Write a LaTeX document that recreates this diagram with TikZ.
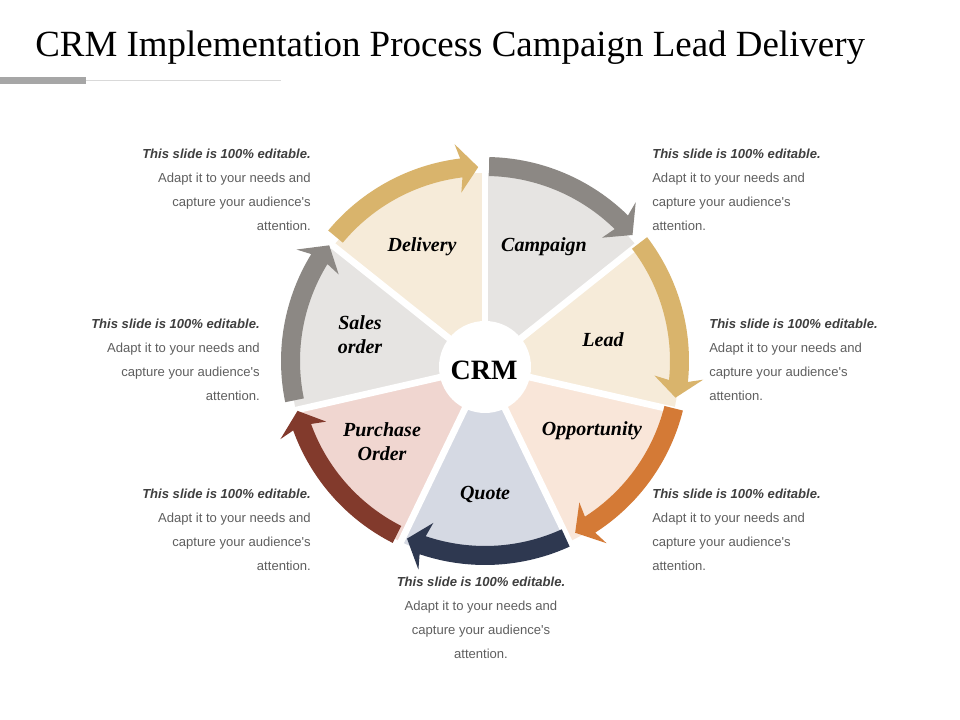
\documentclass[tikz,border=0pt]{standalone}
\usepackage{fontspec}
\setmainfont{Liberation Serif}
\newfontfamily\arialf{Liberation Sans}
\definecolor{secgrey}{HTML}{E6E4E2}
\definecolor{seccream}{HTML}{F6EBD9}
\definecolor{secpeach}{HTML}{F9E6D9}
\definecolor{secblue}{HTML}{D5D9E3}
\definecolor{secpink}{HTML}{F0D6D0}
\definecolor{argrey}{HTML}{8C8884}
\definecolor{argold}{HTML}{D9B46C}
\definecolor{arorange}{HTML}{D47A36}
\definecolor{arnavy}{HTML}{2E3850}
\definecolor{armaroon}{HTML}{823A2C}
\definecolor{txdark}{HTML}{3F3F3F}
\definecolor{txgrey}{HTML}{5F5F5F}
\definecolor{barthick}{HTML}{A6A6A6}
\definecolor{barthin}{HTML}{D9D9D9}
% #1 start angle, #2 tip angle, #3 colour (clockwise arrow)
\newcommand{\myarcarrow}[3]{%
  \pgfmathsetmacro\myab{#2+5}%
  \pgfmathsetmacro\myaw{#2+6}%
  \fill[#3] (#1:204) arc[start angle=#1, end angle=\myab, radius=204]
    -- (\myaw:219) -- (#2:194) -- (\myaw:170) -- (\myab:185)
    arc[start angle=\myab, end angle=#1, radius=185] -- cycle;%
}
\newcommand{\myblurb}{{\color{txdark}\bfseries\itshape This slide is 100\% editable.}\\Adapt it to your needs and\\capture your audience's\\attention.}
\tikzset{
  blurb/.style={inner sep=0pt, text=txgrey, font={\arialf\fontsize{9.8}{18}\selectfont}},
  seglabel/.style={inner sep=0pt, align=center, font={\bfseries\itshape\fontsize{15}{18}\selectfont}},
}
\begin{document}
\begin{tikzpicture}[x=0.75pt,y=0.75pt]
\useasboundingbox (0,0) rectangle (960,720);
\fill[white] (0,0) rectangle (960,720);
% title
\node[anchor=base west, inner sep=0pt, font={\fontsize{27.7}{30}\selectfont}] (title) at (35,663) {CRM Implementation Process Campaign Lead Delivery};
\fill[barthick] (0,636) rectangle (86,643);
\draw[barthin, line width=1.2pt] (86,639.5) -- (281,639.5);
% sectors
\begin{scope}[shift={(485,353)}]
  \foreach \a/\c in {90/secgrey, 38.571/seccream, -12.857/secpeach, -64.286/secblue, -115.714/secpink, -167.143/secgrey, -218.571/seccream}{
    \fill[\c] (0,0) -- (\a:194) arc[start angle=\a, end angle=\a-51.429, radius=194] -- cycle;
  }
  \foreach \a in {90, 38.571, -12.857, -64.286, -115.714, -167.143, -218.571}{
    \draw[white, line width=5pt] (0,0) -- (\a:200);
  }
  \fill[white] (0,0) circle[radius=46];
\end{scope}
% arrows
\begin{scope}[shift={(485,359)}]
  \myarcarrow{88.8}{40.5}{argrey}
  \myarcarrow{37.37}{-10.9}{argold}
  \myarcarrow{-14.06}{-62.3}{arorange}
  \myarcarrow{-65.49}{-113.7}{arnavy}
  \myarcarrow{-116.91}{-165.1}{armaroon}
  \myarcarrow{-168.34}{-216.6}{argrey}
  \myarcarrow{-219.77}{-268.0}{argold}
\end{scope}
% labels
\node[font={\bfseries\fontsize{21}{24}\selectfont}, inner sep=0pt] (crm) at (484,350) {CRM};
\node[seglabel] (campaign) at (544,473) {Campaign};
\node[seglabel] (delivery) at (422,473) {Delivery};
\node[seglabel] (lead) at (603,380) {Lead};
\node[seglabel] (sales) at (360,385) {Sales\\order};
\node[seglabel] (opportunity) at (592,289) {Opportunity};
\node[seglabel] (purchase) at (382,278) {Purchase\\Order};
\node[seglabel] (quote) at (485,225) {Quote};
% text blocks
\node[blurb, anchor=north east, align=right] (t1) at (311,571) {\myblurb};
\node[blurb, anchor=north west, align=left] (t2) at (652,571) {\myblurb};
\node[blurb, anchor=north east, align=right] (t3) at (260,401) {\myblurb};
\node[blurb, anchor=north west, align=left] (t4) at (709,401) {\myblurb};
\node[blurb, anchor=north east, align=right] (t5) at (311,231) {\myblurb};
\node[blurb, anchor=north west, align=left] (t6) at (652,231) {\myblurb};
\node[blurb, anchor=north, align=center] (t7) at (481,143) {\myblurb};
\end{tikzpicture}
\end{document}
